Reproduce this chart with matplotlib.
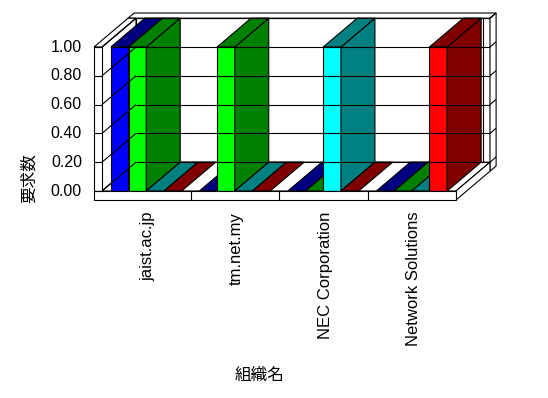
import matplotlib
matplotlib.use("Agg")
import matplotlib.pyplot as plt
from matplotlib.patches import Polygon

# data
categories = ["jaist.ac.jp", "tm.net.my", "NEC Corporation", "Network Solutions"]
series_front = ["#0000FF", "#00FF00", "#00FFFF", "#FF0000"]
series_dark = ["#000080", "#008000", "#008080", "#800000"]
values = [
    [1, 0, 0, 0],   # blue series
    [1, 1, 0, 0],   # lime series
    [0, 0, 1, 0],   # cyan series
    [0, 0, 0, 1],   # red series
]
yticks = [0.0, 0.2, 0.4, 0.6, 0.8, 1.0]
ytick_labels = ["0.00", "0.20", "0.40", "0.60", "0.80", "1.00"]

# oblique 3d look
DX, DY = 0.384, 0.2      # depth offset in data units (z=1)
ZMAX = 1.18              # back of the back wall
TW, TF = 0.09, 0.0625    # wall / floor thickness
LW = 0.8

fig = plt.figure(figsize=(5.48, 3.98), dpi=100)
ax = fig.add_axes([102 / 548, (398 - 191) / 398, 354 / 548, 144 / 398])
ax.set_xlim(0, len(categories))
ax.set_ylim(0, 1)
ax.axis("off")
XR = len(categories)


def proj(x, y, z):
    return (x + z * DX, y + z * DY)


def face(pts, fc="white"):
    ax.add_patch(Polygon([proj(*p) for p in pts], closed=True, fc=fc, ec="black",
                         lw=LW, clip_on=False, joinstyle="miter"))


def line(p0, p1):
    a, b = proj(*p0), proj(*p1)
    ax.plot([a[0], b[0]], [a[1], b[1]], color="black", lw=LW, clip_on=False,
            solid_capstyle="butt")


# walls
face([(0, 0, 1), (XR, 0, 1), (XR, 1, 1), (0, 1, 1)])                      # back wall
face([(-TW, 1, 1), (XR, 1, 1), (XR, 1, ZMAX), (-TW, 1, ZMAX)])            # back wall top
face([(XR, -TF, 1), (XR, -TF, ZMAX), (XR, 1, ZMAX), (XR, 1, 1)])          # back wall right
face([(0, 0, 0), (0, 0, 1), (0, 1, 1), (0, 1, 0)])                        # left wall inner
face([(-TW, 1, 0), (0, 1, 0), (0, 1, 1), (-TW, 1, 1)])                    # left wall top
face([(0, 0, 0), (XR, 0, 0), (XR, 0, 1), (0, 0, 1)])                      # floor top
face([(XR, -TF, 0), (XR, -TF, 1), (XR, 0, 1), (XR, 0, 0)])                # floor right

# gridlines
for t in yticks:
    line((-TW, t, 0), (0, t, 0))
    line((0, t, 0), (0, t, 1))
    line((0, t, 1), (XR, t, 1))
    line((XR, t, 1), (XR, t, ZMAX))
line((XR - 0.08, 0, 1), (XR - 0.08, 1, 1))

# bars
for i in range(len(categories)):
    for j in range(len(values)):
        v = values[j][i]
        x0 = i + 0.1 + 0.2 * j
        x1 = x0 + 0.2
        if v > 0:
            face([(x0, 0, 0), (x1, 0, 0), (x1, v, 0), (x0, v, 0)], series_front[j])
            face([(x1, 0, 0), (x1, 0, 1), (x1, v, 1), (x1, v, 0)], series_dark[j])
        face([(x0, v, 0), (x1, v, 0), (x1, v, 1), (x0, v, 1)], series_dark[j])

# front faces of left wall and floor
face([(-TW, 0, 0), (0, 0, 0), (0, 1, 0), (-TW, 1, 0)])
face([(-TW, -TF, 0), (XR, -TF, 0), (XR, 0, 0), (-TW, 0, 0)])
for i in range(1, len(categories)):
    line((i, -TF, 0), (i, 0, 0))

# tick labels
for t, lab in zip(yticks, ytick_labels):
    ax.text(-0.226, t, lab, ha="right", va="center", fontsize=11.5,
            family="Liberation Sans")
for i, c in enumerate(categories):
    ax.text(i + 0.52, -0.144, c, rotation=90, ha="center", va="top",
            fontsize=12, family="Liberation Sans")

fig.text(29 / 548, 1 - 178 / 398, "要求数", rotation=90, ha="center", va="center",
         fontsize=12, family=["Noto Sans CJK JP", "DejaVu Sans"])
fig.text(260 / 548, 1 - 375 / 398, "組織名", ha="center", va="center",
         fontsize=12, family=["Noto Sans CJK JP", "DejaVu Sans"])

fig.savefig("out.png", dpi=100)
